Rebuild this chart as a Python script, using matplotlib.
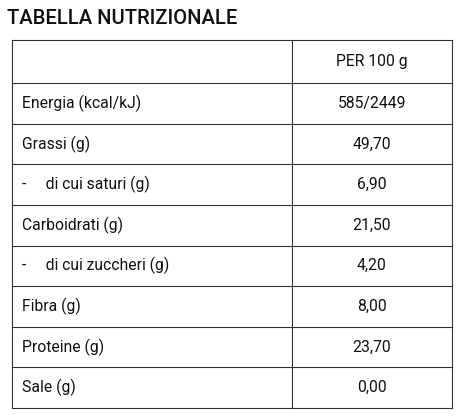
import matplotlib
matplotlib.use("Agg")
import matplotlib.pyplot as plt

title = "TABELLA NUTRIZIONALE"
header = "PER 100 g"
labels = ["Energia (kcal/kJ)", "Grassi (g)", "-     di cui saturi (g)", "Carboidrati (g)",
          "-     di cui zuccheri (g)", "Fibra (g)", "Proteine (g)", "Sale (g)"]
values = ["585/2449", "49,70", "6,90", "21,50", "4,20", "8,00", "23,70", "0,00"]

plt.rcParams['font.family'] = ['Roboto', 'DejaVu Sans']
fig = plt.figure(figsize=(4.65, 4.2), dpi=100)
ax = fig.add_axes([0, 0, 1, 1])
ax.set_xlim(0, 465); ax.set_ylim(420, 0); ax.axis('off')

ax.text(7, 18, title, fontsize=14.5, fontweight='medium', va='center', ha='left', color='#111')
x0, x1, xm = 12, 452, 292
top, hh = 40, 43
rh = (408 - top - hh) / len(labels)
lines = [top, top + hh] + [top + hh + rh * (i + 1) for i in range(len(labels))]
for y in lines:
    ax.plot([x0, x1], [y, y], color='#333', lw=0.8)
for x in (x0, xm, x1):
    ax.plot([x, x], [top, lines[-1]], color='#333', lw=0.8)
ax.text((xm + x1) / 2, top + hh / 2, header, fontsize=11.3, ha='center', va='center', color='#111')
for i, (l, v) in enumerate(zip(labels, values)):
    yc = top + hh + rh * (i + 0.5)
    ax.text(x0 + 10, yc, l, fontsize=11.3, ha='left', va='center', color='#111')
    ax.text((xm + x1) / 2, yc, v, fontsize=11.3, ha='center', va='center', color='#111')
fig.savefig("out.png", dpi=100)
